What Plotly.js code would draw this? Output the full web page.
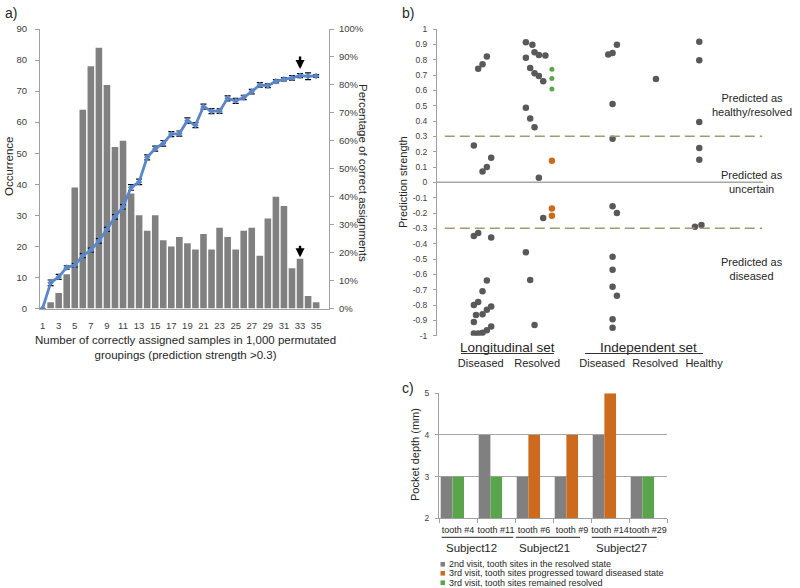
<!DOCTYPE html>
<html><head><meta charset="utf-8">
<script src="https://cdn.plot.ly/plotly-3.0.1.min.js"></script>
<style>body{margin:0;background:#fff}#chart{width:800px;height:588px}</style>
</head><body><div id="chart"></div>
<script>
// ---------- Panel a data ----------
const aCategories = [1,2,3,4,5,6,7,8,9,10,11,12,13,14,15,16,17,18,19,20,21,22,23,24,25,26,27,28,29,30,31,32,33,34,35];
const aOccurrence = [0,2,5,11,39,64,78,84,72,52,54,37,30,25,30,22,20,23,21,19,24,19,26,23,19,25,26,17,29,36,33,13,16,4,2];
const aPercent = [0,9.2,11.3,14.7,15.5,18.9,20.9,24.2,28.3,32.8,36.4,43.3,45.3,54.1,57.2,59.1,62.4,62.6,67.2,65.6,72.2,70.6,70.6,75.2,74.3,75.5,77.6,80.0,79.7,81.3,82.0,82.5,83.3,83.1,83.2];
const aPercentErr = [0,1.0,0.9,0.6,0.6,0.7,0.7,0.8,0.7,0.8,0.8,1.0,1.0,0.9,0.9,1.0,0.9,0.9,1.0,0.9,0.9,0.9,0.8,0.9,0.9,0.8,0.8,0.8,0.7,0.6,0.6,0.8,0.7,1.2,0.5];
const aTickVals = [1,3,5,7,9,11,13,15,17,19,21,23,25,27,29,31,33,35];
const aArrowCategory = 33;

// ---------- Panel b data ----------
const bTickVals = [1,0.9,0.8,0.7,0.6,0.5,0.4,0.3,0.2,0.1,0,-0.1,-0.2,-0.3,-0.4,-0.5,-0.6,-0.7,-0.8,-0.9,-1];
const bTickText = ['1','0.9','0.8','0.7','0.6','0.5','0.4','0.3','0.2','0.1','0','-0.1','-0.2','-0.3','-0.4','-0.5','-0.6','-0.7','-0.8','-0.9','-1'];
const bGroupLabels = ['Diseased','Resolved','Diseased','Resolved','Healthy'];
const bSetLabels = ['Longitudinal set','Independent set'];
const bThreshold = 0.3;
// jitter position (in dot widths) and prediction strength of each sample
const bGrayX = [9.5,10.5,11.5, 8.5,10.5,11.5,12.5, 8.5,9.5,12.5, 11.5,10.5, 8.5,9.5,12.5,11.5,9,10.5, 8.5,12.5,11.5,10.5,8.5,9.5,
  20.5,22,22.5,23.5,25,20.5, 21.5,22.5,23.5,24.5, 20.5,21.5,22.5, 23.5,24.5,20.5,21.5,22.5,
  39.5,40.5,41.5,40.5,40.5,40.5,41.5,40.5,40.5,40.5,41.5,40.5,40.5,
  50.5,
  60.5,60.5,60.5,60.5,60.5,59.5,61];
const bGrayY = [0.74,0.77,0.82, 0.24,0.07,0.10,0.16, -0.35,-0.33,-0.36, -0.64,-0.71, -0.80,-0.78,-0.81,-0.83,-0.865,-0.86, -0.91,-0.94,-0.965,-0.98,-0.985,-0.985,
  0.913,0.898,0.848,0.830,0.828,0.813, 0.746,0.711,0.693,0.659, 0.487,0.417,0.359, 0.03,-0.233,-0.456,-0.637,-0.93,
  0.833,0.843,0.898,0.511,0.285,-0.156,-0.2,-0.485,-0.57,-0.68,-0.74,-0.893,-0.948,
  0.674,
  0.917,0.796,0.393,0.224,0.148,-0.289,-0.278];
const bGreenX = [26.5,26.5,26.5];
const bGreenY = [0.737,0.678,0.609];
const bOrangeX = [26.5,26.5,26.5];
const bOrangeY = [0.141,-0.17,-0.217];
const bGroupCenters = [10.1,23.1,38.1,50.3,61.6];

// ---------- Panel c data ----------
const cTeeth = ['tooth #4','tooth #11','tooth #6','tooth #9','tooth #14','tooth #29'];
const cSubjects = ['Subject12','Subject21','Subject27'];
const c2ndVisit = [3,4,3,3,4,3];
const c3rdProgressed = [null,null,4,4,5,null];
const c3rdResolved = [3,3,null,null,null,3];
const cLegend = ['2nd visit, tooth sites in the resolved state','3rd visit, tooth sites progressed toward diseased state','3rd visit, tooth sites remained resolved'];

// ---------- helpers ----------
const W = 800, H = 588;
const PX = v => v / W;
const PY = v => 1 - v / H;
const FONT = 'Liberation Sans, Arial, sans-serif';
const TXT = '#262626';
const AX = '#a0a0a0';
const GRAY_BAR = '#808080', ORANGE = '#cc6a1e', GREEN = '#5aa54c', BLUE = '#5b87c9', DOT = '#595959';

const traces = [
  {type:'bar', x:aCategories, y:aOccurrence, xaxis:'x', yaxis:'y', width:0.82,
   marker:{color:GRAY_BAR}, hoverinfo:'x+y'},
  {type:'scatter', mode:'lines+markers', x:aCategories, y:aPercent, xaxis:'x', yaxis:'y2',
   line:{color:BLUE, width:2.8}, marker:{symbol:'diamond', size:5, color:BLUE},
   error_y:{type:'data', array:aPercentErr, visible:true, color:'#000', thickness:1.2, width:3}},
  {type:'scatter', mode:'markers', x:bGrayX, y:bGrayY, xaxis:'x3', yaxis:'y3',
   marker:{color:DOT, size:6.5}},
  {type:'scatter', mode:'markers', x:bGreenX, y:bGreenY, xaxis:'x3', yaxis:'y3',
   marker:{color:GREEN, size:5}},
  {type:'scatter', mode:'markers', x:bOrangeX, y:bOrangeY, xaxis:'x3', yaxis:'y3',
   marker:{color:ORANGE, size:6.5}},
  {type:'bar', x:cTeeth, y:c2ndVisit, xaxis:'x4', yaxis:'y4', width:0.307, offset:-0.455,
   marker:{color:GRAY_BAR}, name:cLegend[0]},
  {type:'bar', x:cTeeth, y:c3rdProgressed, xaxis:'x4', yaxis:'y4', width:0.307, offset:-0.148,
   marker:{color:ORANGE}, name:cLegend[1]},
  {type:'bar', x:cTeeth, y:c3rdResolved, xaxis:'x4', yaxis:'y4', width:0.307, offset:-0.148,
   marker:{color:GREEN}, name:cLegend[2]}
];

const tickFont = s => ({family:FONT, size:s, color:'#404040'});

const ann = [];
const txt = (text, x, y, size, opts={}) => ann.push(Object.assign({
  text, x:PX(x), y:PY(y), xref:'paper', yref:'paper', showarrow:false,
  font:{family:FONT, size, color:TXT}, xanchor:'center', yanchor:'middle'}, opts));

txt('a)', 3, 13, 14, {xanchor:'left'});
txt('b)', 400, 13, 14, {xanchor:'left'});
txt('c)', 400, 388, 14, {xanchor:'left'});
txt('Occurrence', 9, 167, 11.5, {textangle:-90});
txt('Percentage of correct assignments', 363, 173, 11.5, {textangle:90});
txt('Number of correctly assigned samples in 1,000 permutated<br>groupings (prediction strength >0.3)', 185, 347, 11.5);
txt('Prediction strength', 403, 182, 11, {textangle:-90});
txt('Predicted as<br>healthy/resolved', 752, 105, 11);
txt('Predicted as<br>uncertain', 752, 182, 11);
txt('Predicted as<br>diseased', 752, 269, 11);
txt(bSetLabels[0], 507.5, 347, 13.5);
txt(bSetLabels[1], 648.7, 347, 13.5);
txt('Pocket depth (mm)', 415, 455, 11, {textangle:-90});
const subjX = [471.7, 544, 621.7];
cSubjects.forEach((s,i) => txt(s, subjX[i], 547.7, 11.5));
const legY = [564.3, 573.3, 582.7];
cLegend.forEach((s,i) => txt(s, 447, legY[i], 9, {xanchor:'left'}));

// arrows in panel a
ann.push({x:aArrowCategory, y:aPercent[aArrowCategory-1]+2.4, xref:'x', yref:'y2', ax:0, ay:-14,
  showarrow:true, arrowhead:2, arrowsize:0.75, arrowwidth:2.4, arrowcolor:'#000', text:''});
ann.push({x:aArrowCategory, y:aOccurrence[aArrowCategory-1]+0.5, xref:'x', yref:'y', ax:0, ay:-13,
  showarrow:true, arrowhead:2, arrowsize:0.75, arrowwidth:2.4, arrowcolor:'#000', text:''});

const shapes = [
  {type:'line', xref:'x3', yref:'y3', x0:0, x1:75.2, y0:0, y1:0, line:{color:'#a6a6a6', width:1.5}},
  {type:'line', xref:'x3', yref:'y3', x0:1.8, x1:75, y0:bThreshold, y1:bThreshold, line:{color:'#a09a72', width:1.5, dash:'10px,5px'}},
  {type:'line', xref:'x3', yref:'y3', x0:1.8, x1:75, y0:-bThreshold, y1:-bThreshold, line:{color:'#a09a72', width:1.5, dash:'10px,5px'}},
  {type:'line', xref:'paper', yref:'paper', x0:PX(461), x1:PX(554), y0:PY(353.5), y1:PY(353.5), line:{color:'#333', width:1}},
  {type:'line', xref:'paper', yref:'paper', x0:PX(585), x1:PX(703), y0:PY(353.5), y1:PY(353.5), line:{color:'#333', width:1}},
  {type:'line', xref:'x4', yref:'paper', x0:-0.43, x1:1.455, y0:PY(537.3), y1:PY(537.3), line:{color:'#222', width:1}},
  {type:'line', xref:'x4', yref:'paper', x0:1.52, x1:3.21, y0:PY(537.3), y1:PY(537.3), line:{color:'#222', width:1}},
  {type:'line', xref:'x4', yref:'paper', x0:3.52, x1:5.23, y0:PY(537.3), y1:PY(537.3), line:{color:'#222', width:1}}
];
[GRAY_BAR, ORANGE, GREEN].forEach((c,i) => shapes.push({type:'rect', xref:'paper', yref:'paper',
  x0:PX(440.5), x1:PX(445), y0:PY(legY[i]+2.3), y1:PY(legY[i]-2.3), fillcolor:c, line:{width:0}}));

const layout = {
  width:W, height:H, margin:{l:0,r:0,t:0,b:0}, showlegend:false, barmode:'overlay',
  paper_bgcolor:'#fff', plot_bgcolor:'rgba(0,0,0,0)', font:{family:FONT, color:TXT},
  xaxis:{domain:[PX(40),PX(329)], range:[0.68,36.6], tickvals:aTickVals, anchor:'y',
    showline:true, linecolor:AX, linewidth:1, ticks:'', showgrid:false, zeroline:false,
    tickfont:tickFont(9.5), ticklabelstandoff:8},
  yaxis:{domain:[PY(308.5),PY(29)], range:[0,90], dtick:10, anchor:'x',
    showline:true, linecolor:AX, ticks:'outside', ticklen:4, tickcolor:AX, showgrid:false, zeroline:false,
    tickfont:tickFont(9.5), ticklabelstandoff:6},
  yaxis2:{overlaying:'y', side:'right', range:[0,100], dtick:10, ticksuffix:'%', anchor:'x',
    showline:true, linecolor:AX, ticks:'outside', ticklen:4, tickcolor:AX, showgrid:false, zeroline:false,
    tickfont:tickFont(9.5), ticklabelstandoff:3},
  xaxis3:{domain:[PX(437),PX(763)], range:[0,75.2], anchor:'y3', tickvals:bGroupCenters, ticktext:bGroupLabels,
    showline:false, ticks:'', showgrid:false, zeroline:false, tickfont:{family:FONT, size:11, color:TXT},
    ticklabelstandoff:19, tickangle:0},
  yaxis3:{domain:[PY(335.7),PY(29)], range:[-1,1], anchor:'x3', tickvals:bTickVals, ticktext:bTickText,
    showline:true, linecolor:AX, ticks:'outside', ticklen:3, tickcolor:AX, showgrid:false, zeroline:false,
    tickfont:tickFont(8.5), ticklabelstandoff:4},
  xaxis4:{domain:[PX(439),PX(667)], anchor:'y4', type:'category', showline:true, linecolor:AX,
    ticks:'outside', tickson:'boundaries', ticklen:4, tickcolor:AX, showgrid:false, zeroline:false,
    tickfont:{family:FONT, size:9, color:TXT}, ticklabelstandoff:3, tickangle:0},
  yaxis4:{domain:[PY(518.3),PY(393.3)], range:[2,5], dtick:1, anchor:'x4',
    showline:true, linecolor:AX, ticks:'outside', ticklen:3, tickcolor:AX, showgrid:true, gridcolor:'#a6a6a6',
    zeroline:false, tickfont:tickFont(8.5), ticklabelstandoff:4},
  annotations:ann, shapes:shapes
};

Plotly.newPlot('chart', traces, layout, {staticPlot:true, displayModeBar:false});
</script></body></html>
